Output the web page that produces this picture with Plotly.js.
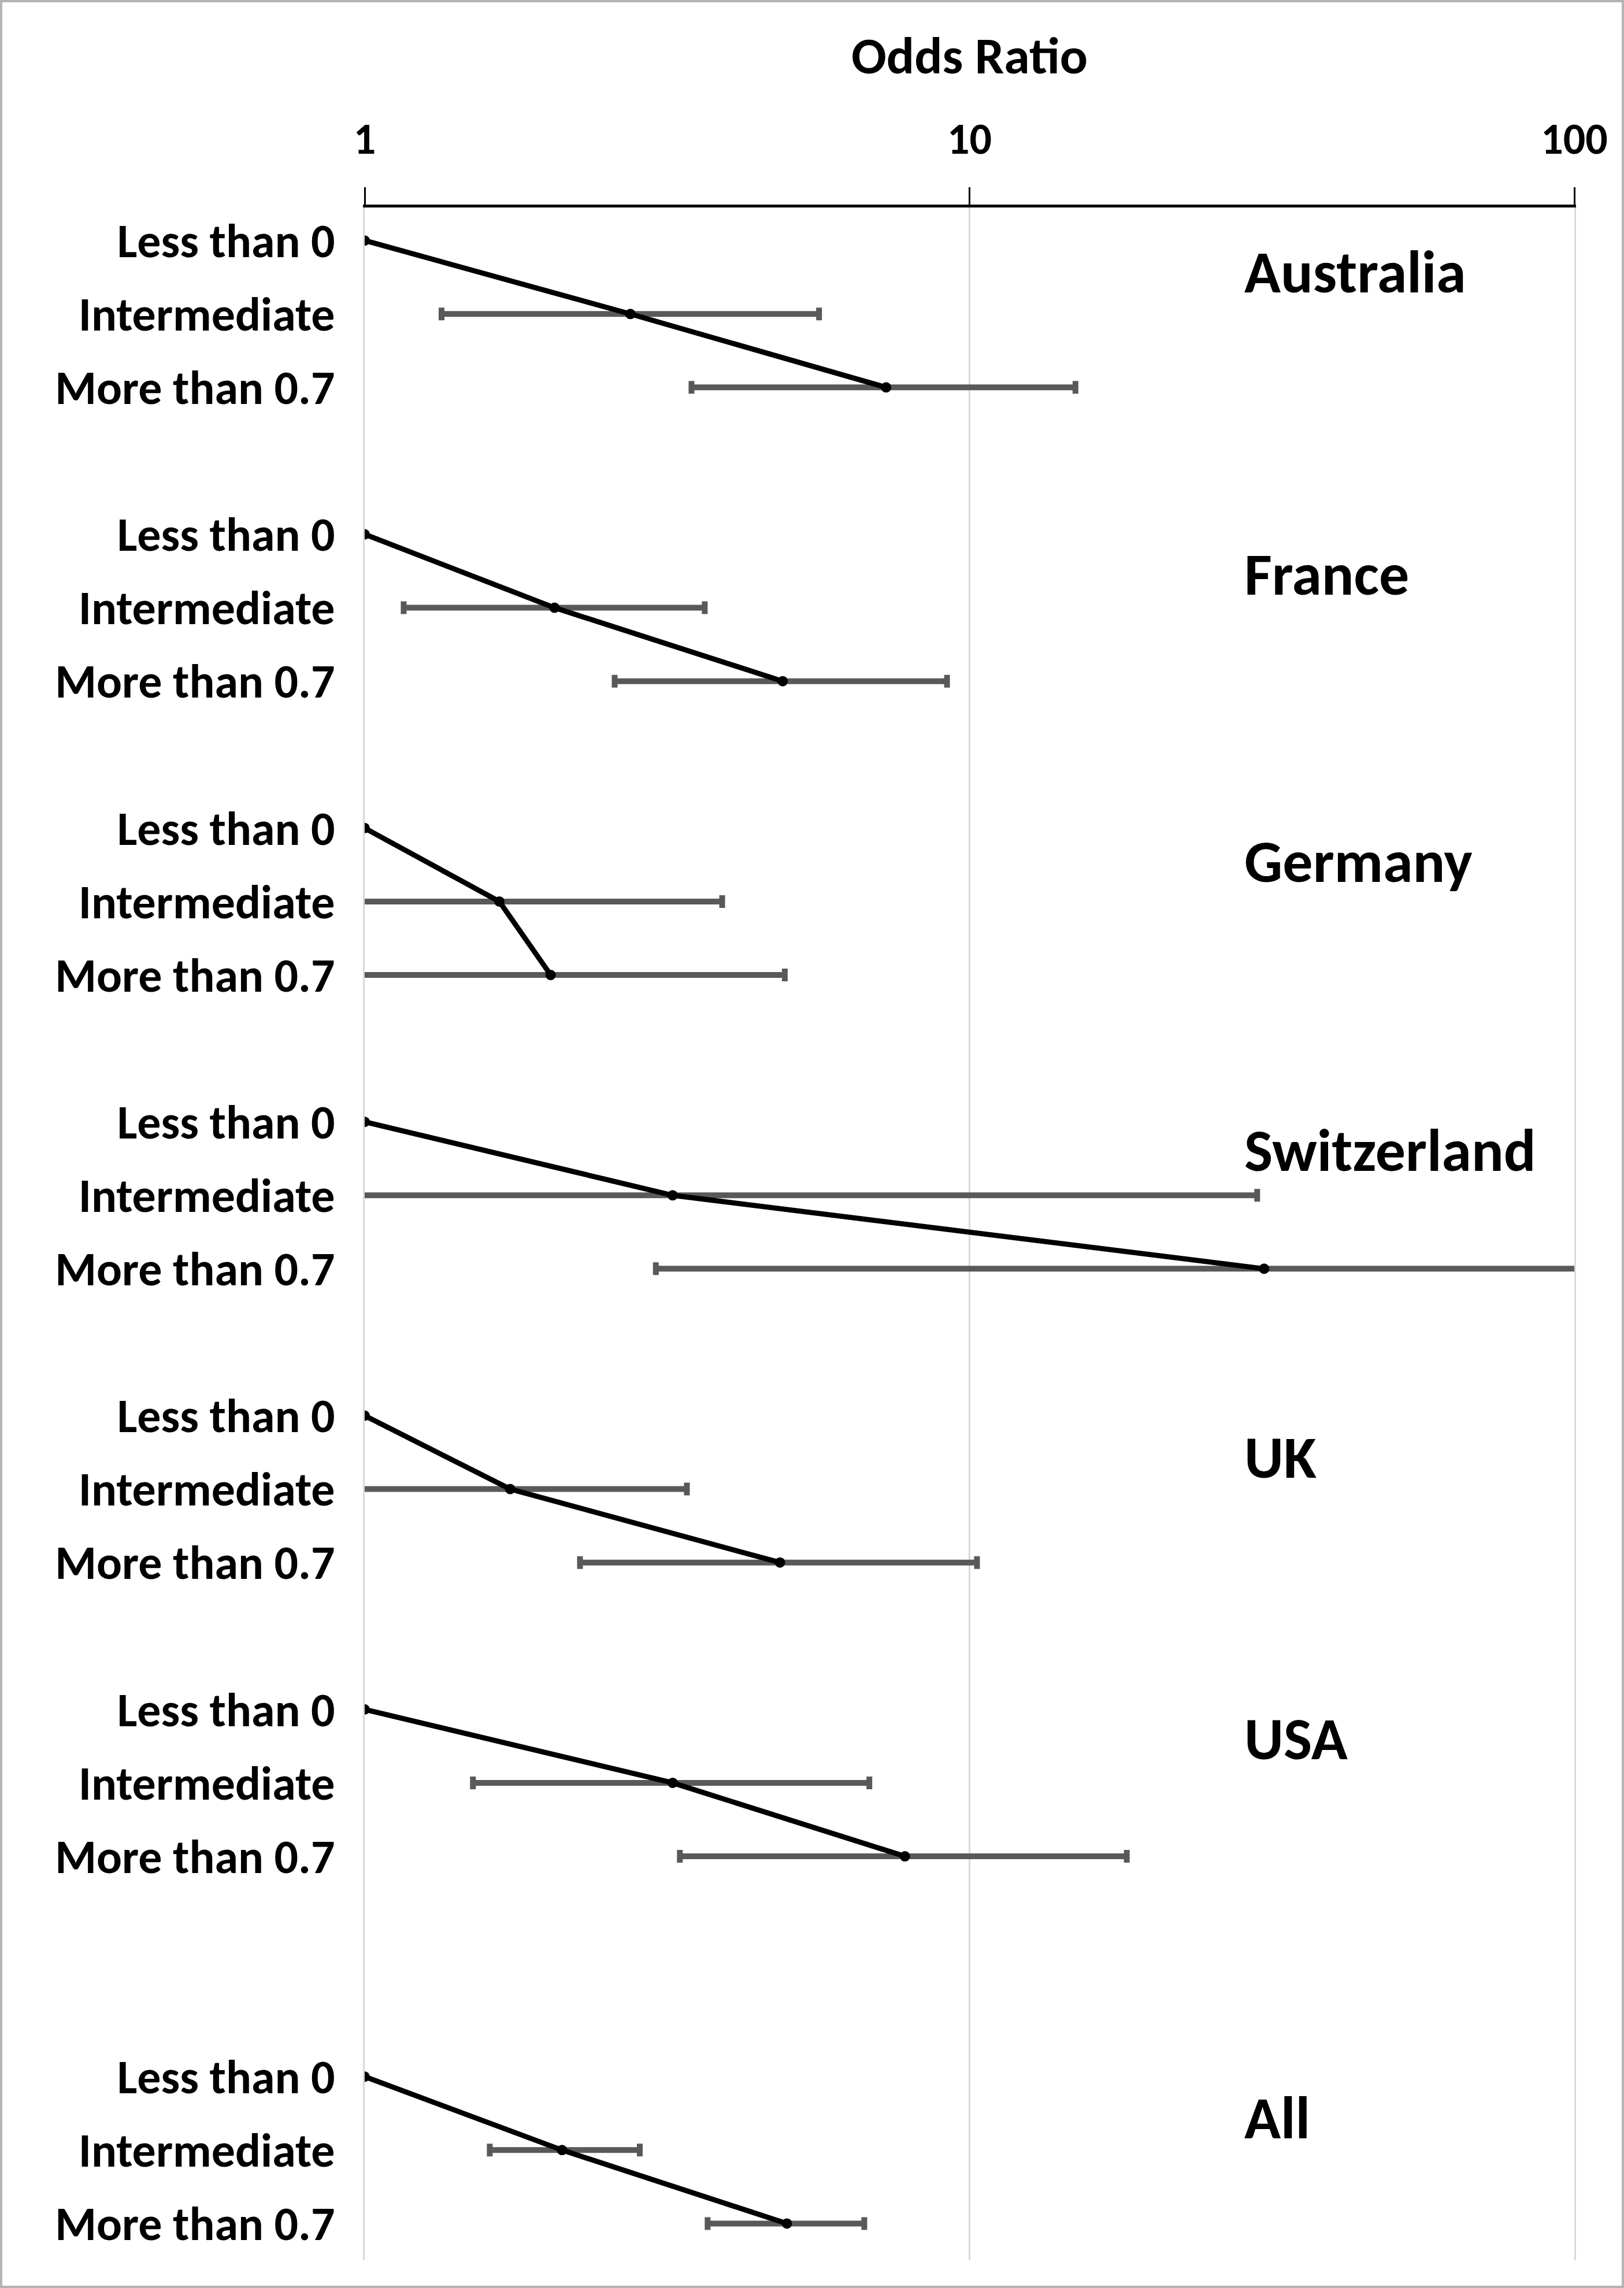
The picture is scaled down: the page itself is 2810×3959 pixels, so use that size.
<!DOCTYPE html>
<html>
<head>
<meta charset="utf-8">
<script src="https://cdn.plot.ly/plotly-3.0.1.min.js"></script>
<style>
    body { margin: 0; background: #fff; }
    #wrap { position: relative; width: 2810px; height: 3959px; }
    #plot { width: 2810px; height: 3959px; }
    #frame { position: absolute; left: 0; top: 0; width: 2810px; height: 3959px; box-sizing: border-box; border: 4px solid #b4b4b4; pointer-events: none; }
</style>
</head>
<body>
<div id="wrap"><div id="plot"></div><div id="frame"></div></div>
<script>
const groups = ['Australia', 'France', 'Germany', 'Switzerland', 'UK', 'USA', 'All']
const levels = ['Less than 0', 'Intermediate', 'More than 0.7']
const xTicks = [1, 10, 100]

// odds ratios per group, one per level (first level is the reference)
const oddsRatio = [
    [1, 2.75, 7.28],
    [1, 2.06, 4.91],
    [1, 1.67, 2.03],
    [1, 3.23, 30.7],
    [1, 1.74, 4.86],
    [1, 3.23, 7.82],
    [1, 2.12, 4.99]
]
const ciLower = [
    [null, 1.34, 3.47],
    [null, 1.16, 2.59],
    [null, 0.75, 0.85],
    [null, 0.6, 3.03],
    [null, 0.8, 2.27],
    [null, 1.51, 3.32],
    [null, 1.61, 3.69]
]
const ciUpper = [
    [null, 5.64, 14.97],
    [null, 3.65, 9.18],
    [null, 3.90, 4.95],
    [null, 29.9, 310],
    [null, 3.41, 10.29],
    [null, 6.83, 18.2],
    [null, 2.85, 6.70]
]

// one blank row between countries, two before the pooled estimate
const rowStart = []
let row = 0
groups.forEach(function (g) {
    if (g === 'All') row += 1
    rowStart.push(row)
    row += levels.length + 1
})
const lastRow = rowStart[rowStart.length - 1] + levels.length - 1

const font = 'Calibri, Carlito, Lato, sans-serif'
const tickVals = []
const tickText = []
const errTraces = []
const lineTraces = []

groups.forEach(function (g, i) {
    const ys = levels.map(function (l, j) { return rowStart[i] + j })
    ys.forEach(function (y, j) {
        tickVals.push(y)
        tickText.push(levels[j])
    })

    errTraces.push({
        x: oddsRatio[i],
        y: ys,
        type: 'scatter',
        mode: 'markers',
        marker: { size: 1, color: 'rgba(0,0,0,0)' },
        error_x: {
            type: 'data',
            symmetric: false,
            array: oddsRatio[i].map(function (v, j) { return ciUpper[i][j] === null ? NaN : ciUpper[i][j] - v }),
            arrayminus: oddsRatio[i].map(function (v, j) { return ciLower[i][j] === null ? NaN : v - ciLower[i][j] }),
            color: '#595959',
            thickness: 10,
            width: 11
        },
        hoverinfo: 'skip'
    })

    lineTraces.push({
        x: oddsRatio[i],
        y: ys,
        type: 'scatter',
        mode: 'lines+markers',
        name: g,
        line: { color: '#000', width: 9 },
        marker: { color: '#000', size: 18 }
    })
})

const labelNudge = [0.43, 0.54, 0.45, 0.39, 0.57, 0.40, 0.56]

const layout = {
    width: 2810,
    height: 3959,
    margin: { l: 631, r: 86, t: 359, b: 48 },
    paper_bgcolor: '#fff',
    plot_bgcolor: '#fff',
    showlegend: false,
    font: { family: font, color: '#000' },
    xaxis: {
        type: 'log',
        side: 'top',
        range: [0, 2],
        tickvals: xTicks,
        ticktext: xTicks.map(String),
        showline: true,
        linecolor: '#000',
        linewidth: 5,
        ticks: 'outside',
        ticklen: 30,
        tickwidth: 3,
        tickcolor: '#000',
        showgrid: true,
        gridcolor: '#d9d9d9',
        gridwidth: 3,
        zeroline: false,
        tickfont: { size: 76, weight: 'bold' },
        ticklabelstandoff: 28,
        title: { text: 'Odds Ratio', font: { size: 90, weight: 'bold' }, standoff: 38 }
    },
    yaxis: {
        range: [lastRow + 0.5, -0.45],
        tickvals: tickVals,
        ticktext: tickText,
        showgrid: false,
        zeroline: false,
        // light edge lines stand in for the gridlines at 1 and 100
        showline: true,
        mirror: true,
        linecolor: '#d9d9d9',
        linewidth: 3,
        ticks: '',
        tickfont: { size: 82, weight: 'bold' },
        ticklabelstandoff: 32
    },
    annotations: groups.map(function (g, i) {
        return {
            text: g,
            xref: 'paper',
            x: 0.726,
            xanchor: 'left',
            yref: 'y',
            y: rowStart[i] + labelNudge[i],
            yanchor: 'middle',
            showarrow: false,
            font: { size: 104, weight: 'bold' }
        }
    })
}

Plotly.newPlot('plot', errTraces.concat(lineTraces), layout, { staticPlot: true })
</script>
</body>
</html>
